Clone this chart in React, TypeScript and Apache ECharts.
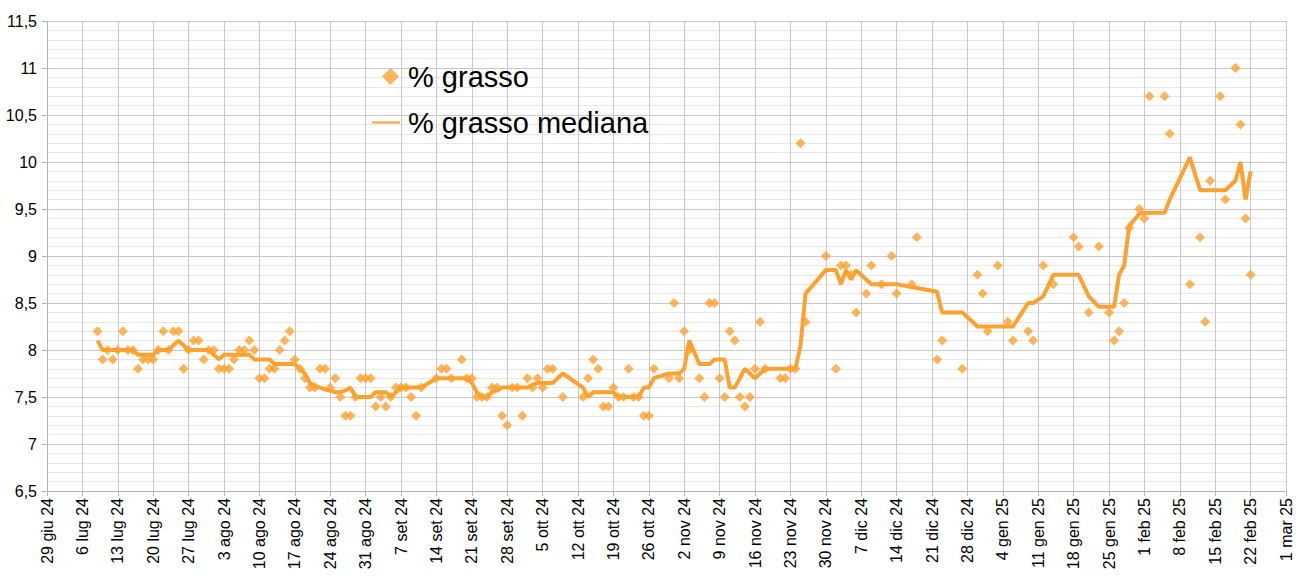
import React, { useEffect, useRef } from "react";
import * as echarts from "echarts";

const START_DATE = "2024-06-29";
const DAY_MS = 86400000;

const xTickLabels = [
  "29 giu 24", "6 lug 24", "13 lug 24", "20 lug 24", "27 lug 24", "3 ago 24", "10 ago 24",
  "17 ago 24", "24 ago 24", "31 ago 24", "7 set 24", "14 set 24", "21 set 24", "28 set 24",
  "5 ott 24", "12 ott 24", "19 ott 24", "26 ott 24", "2 nov 24", "9 nov 24", "16 nov 24",
  "23 nov 24", "30 nov 24", "7 dic 24", "14 dic 24", "21 dic 24", "28 dic 24", "4 gen 25",
  "11 gen 25", "18 gen 25", "25 gen 25", "1 feb 25", "8 feb 25", "15 feb 25", "22 feb 25",
  "1 mar 25",
];

const dates = [
  "2024-07-09", "2024-07-10", "2024-07-11", "2024-07-12", "2024-07-13", "2024-07-14", "2024-07-15",
  "2024-07-16", "2024-07-17", "2024-07-18", "2024-07-19", "2024-07-20", "2024-07-21", "2024-07-22",
  "2024-07-23", "2024-07-24", "2024-07-25", "2024-07-26", "2024-07-27", "2024-07-28", "2024-07-29",
  "2024-07-30", "2024-07-31", "2024-08-01", "2024-08-02", "2024-08-03", "2024-08-04", "2024-08-05",
  "2024-08-06", "2024-08-07", "2024-08-08", "2024-08-09", "2024-08-10", "2024-08-11", "2024-08-12",
  "2024-08-13", "2024-08-14", "2024-08-15", "2024-08-16", "2024-08-17", "2024-08-18", "2024-08-19",
  "2024-08-20", "2024-08-21", "2024-08-22", "2024-08-23", "2024-08-24", "2024-08-25", "2024-08-26",
  "2024-08-27", "2024-08-28", "2024-08-29", "2024-08-30", "2024-08-31", "2024-09-01", "2024-09-02",
  "2024-09-03", "2024-09-04", "2024-09-05", "2024-09-06", "2024-09-07", "2024-09-08", "2024-09-09",
  "2024-09-10", "2024-09-11", "2024-09-14", "2024-09-15", "2024-09-16", "2024-09-17", "2024-09-19",
  "2024-09-20", "2024-09-21", "2024-09-22", "2024-09-23", "2024-09-24", "2024-09-25", "2024-09-26",
  "2024-09-27", "2024-09-28", "2024-09-29", "2024-09-30", "2024-10-01", "2024-10-02", "2024-10-03",
  "2024-10-04", "2024-10-05", "2024-10-06", "2024-10-07", "2024-10-09", "2024-10-13", "2024-10-14",
  "2024-10-15", "2024-10-16", "2024-10-17", "2024-10-18", "2024-10-19", "2024-10-20", "2024-10-21",
  "2024-10-22", "2024-10-23", "2024-10-24", "2024-10-25", "2024-10-26", "2024-10-27", "2024-10-30",
  "2024-10-31", "2024-11-01", "2024-11-02", "2024-11-03", "2024-11-05", "2024-11-06", "2024-11-07",
  "2024-11-08", "2024-11-09", "2024-11-10", "2024-11-11", "2024-11-12", "2024-11-13", "2024-11-14",
  "2024-11-15", "2024-11-16", "2024-11-17", "2024-11-18", "2024-11-21", "2024-11-22", "2024-11-23",
  "2024-11-24", "2024-11-25", "2024-11-26", "2024-11-30", "2024-12-02", "2024-12-03", "2024-12-04",
  "2024-12-05", "2024-12-06", "2024-12-08", "2024-12-09", "2024-12-11", "2024-12-13", "2024-12-14",
  "2024-12-17", "2024-12-18", "2024-12-22", "2024-12-23", "2024-12-27", "2024-12-30", "2024-12-31",
  "2025-01-01", "2025-01-03", "2025-01-05", "2025-01-06", "2025-01-09", "2025-01-10", "2025-01-12",
  "2025-01-14", "2025-01-18", "2025-01-19", "2025-01-21", "2025-01-23", "2025-01-25", "2025-01-26",
  "2025-01-27", "2025-01-28", "2025-01-29", "2025-01-31", "2025-02-01", "2025-02-02", "2025-02-05",
  "2025-02-06", "2025-02-10", "2025-02-12", "2025-02-13", "2025-02-14", "2025-02-16", "2025-02-17",
  "2025-02-19", "2025-02-20", "2025-02-21", "2025-02-22",
];

const grasso = [
  8.2, 7.9, 8.0, 7.9, 8.0, 8.2, 8.0,
  8.0, 7.8, 7.9, 7.9, 7.9, 8.0, 8.2,
  8.0, 8.2, 8.2, 7.8, 8.0, 8.1, 8.1,
  7.9, 8.0, 8.0, 7.8, 7.8, 7.8, 7.9,
  8.0, 8.0, 8.1, 8.0, 7.7, 7.7, 7.8,
  7.8, 8.0, 8.1, 8.2, 7.9, 7.8, 7.7,
  7.6, 7.6, 7.8, 7.8, 7.6, 7.7, 7.5,
  7.3, 7.3, 7.5, 7.7, 7.7, 7.7, 7.4,
  7.5, 7.4, 7.5, 7.6, 7.6, 7.6, 7.5,
  7.3, 7.6, 7.7, 7.8, 7.8, 7.7, 7.9,
  7.7, 7.7, 7.5, 7.5, 7.5, 7.6, 7.6,
  7.3, 7.2, 7.6, 7.6, 7.3, 7.7, 7.6,
  7.7, 7.6, 7.8, 7.8, 7.5, 7.5, 7.7,
  7.9, 7.8, 7.4, 7.4, 7.6, 7.5, 7.5,
  7.8, 7.5, 7.5, 7.3, 7.3, 7.8, 7.7,
  8.5, 7.7, 8.2, 8.0, 7.7, 7.5, 8.5,
  8.5, 7.7, 7.5, 8.2, 8.1, 7.5, 7.4,
  7.5, 7.8, 8.3, 7.8, 7.7, 7.7, 7.8,
  7.8, 10.2, 8.3, 9.0, 7.8, 8.9, 8.9,
  8.8, 8.4, 8.6, 8.9, 8.7, 9.0, 8.6,
  8.7, 9.2, 7.9, 8.1, 7.8, 8.8, 8.6,
  8.2, 8.9, 8.3, 8.1, 8.2, 8.1, 8.9,
  8.7, 9.2, 9.1, 8.4, 9.1, 8.4, 8.1,
  8.2, 8.5, 9.3, 9.5, 9.4, 10.7, 10.7,
  10.3, 8.7, 9.2, 8.3, 9.8, 10.7, 9.6,
  11.0, 10.4, 9.4, 8.8,
];

const grassoMediana = [
  8.1, 8.0, 8.0, 8.0, 8.0, 8.0, 8.0,
  8.0, 7.95, 7.95, 7.95, 7.95, 8.0, 8.0,
  8.0, 8.05, 8.1, 8.05, 8.0, 8.0, 8.0,
  8.0, 8.0, 7.95, 7.9, 7.95, 7.95, 7.95,
  7.95, 7.95, 7.95, 7.9, 7.9, 7.9, 7.9,
  7.85, 7.85, 7.85, 7.85, 7.85, 7.8, 7.75,
  7.65, 7.62, 7.6, 7.58, 7.57, 7.55, 7.55,
  7.57, 7.6, 7.5, 7.5, 7.5, 7.5, 7.55,
  7.55, 7.55, 7.5, 7.55, 7.6, 7.6, 7.6,
  7.6, 7.6, 7.7, 7.7, 7.7, 7.7, 7.7,
  7.7, 7.65, 7.55, 7.5, 7.5, 7.55, 7.57,
  7.6, 7.6, 7.6, 7.6, 7.6, 7.6, 7.63,
  7.65, 7.65, 7.65, 7.65, 7.75, 7.6, 7.5,
  7.55, 7.55, 7.55, 7.55, 7.55, 7.5, 7.5,
  7.5, 7.5, 7.5, 7.6, 7.6, 7.7, 7.75,
  7.75, 7.75, 7.8, 8.1, 7.85, 7.85, 7.85,
  7.9, 7.9, 7.9, 7.6, 7.6, 7.7, 7.8,
  7.75, 7.7, 7.75, 7.8, 7.8, 7.8, 7.8,
  7.8, 8.05, 8.6, 8.85, 8.85, 8.7, 8.85,
  8.75, 8.85, 8.75, 8.7, 8.7, 8.7, 8.7,
  8.67, 8.66, 8.62, 8.4, 8.4, 8.25, 8.25,
  8.25, 8.25, 8.25, 8.25, 8.5, 8.5, 8.57,
  8.8, 8.8, 8.8, 8.57, 8.46, 8.46, 8.46,
  8.8, 8.9, 9.32, 9.45, 9.46, 9.46, 9.46,
  9.6, 10.05, 9.7, 9.7, 9.7, 9.7, 9.7,
  9.8, 10.0, 9.6, 9.9,
];

const COLOR = "#ffa12f";
const FONT = "'Liberation Sans', Arial, sans-serif";

const dayIndex = (s: string) => (Date.parse(s) - Date.parse(START_DATE)) / DAY_MS;

export default function App() {
  const ref = useRef<HTMLDivElement>(null);

  useEffect(() => {
    if (!ref.current) return;
    const chart = echarts.init(ref.current, null, { renderer: "svg" });
    const xs = dates.map(dayIndex);
    const maxDay = (xTickLabels.length - 1) * 7;
    const legendText = { fontSize: 29, color: "#000", fontFamily: FONT };

    chart.setOption({
      animation: false,
      backgroundColor: "#ffffff",
      textStyle: { fontFamily: FONT },
      grid: { left: 47, right: 20, top: 21, bottom: 88, containLabel: false },
      legend: [
        {
          left: 382,
          top: 62,
          padding: 0,
          itemWidth: 17,
          itemHeight: 17,
          textStyle: { ...legendText, padding: [0, 0, 0, 4] },
          data: [{ name: "% grasso", icon: "diamond" }],
        },
        {
          left: 372,
          top: 108,
          padding: 0,
          itemWidth: 28,
          itemHeight: 2,
          textStyle: { ...legendText, padding: [0, 0, 0, 3] },
          data: [{ name: "% grasso mediana", icon: "rect" }],
        },
      ],
      xAxis: {
        type: "value",
        min: 0,
        max: maxDay,
        interval: 7,
        axisLine: { show: true, lineStyle: { color: "#b3b3b3" } },
        axisTick: { show: true, length: 5, lineStyle: { color: "#b3b3b3" } },
        axisLabel: {
          rotate: 90,
          margin: 7,
          fontSize: 16,
          color: "#000",
          fontFamily: FONT,
          showMinLabel: true,
          showMaxLabel: true,
          formatter: (v: number) => xTickLabels[Math.round(v / 7)] ?? "",
        },
        splitLine: { show: true, lineStyle: { color: "#c8c8c8", width: 1 } },
      },
      yAxis: {
        type: "value",
        min: 6.5,
        max: 11.5,
        interval: 0.5,
        axisLine: { show: true, lineStyle: { color: "#b3b3b3" } },
        axisTick: { show: true, length: 5, lineStyle: { color: "#b3b3b3" } },
        axisLabel: {
          margin: 10,
          fontSize: 16,
          color: "#000",
          fontFamily: FONT,
          formatter: (v: number) => String(v).replace(".", ","),
        },
        splitLine: { show: true, lineStyle: { color: "#c8c8c8", width: 1 } },
        minorTick: { show: false, splitNumber: 5 },
        minorSplitLine: { show: true, lineStyle: { color: "#e8e8e8", width: 1 } },
      },
      series: [
        {
          name: "% grasso",
          type: "scatter",
          symbol: "diamond",
          symbolSize: 10,
          itemStyle: { color: COLOR },
          data: xs.map((x, i) => [x, grasso[i]]),
          z: 3,
        },
        {
          name: "% grasso mediana",
          type: "line",
          symbol: "none",
          lineStyle: { color: COLOR, width: 4 },
          itemStyle: { color: COLOR },
          data: xs.map((x, i) => [x, grassoMediana[i]]),
          z: 2,
        },
      ],
    });

    return () => chart.dispose();
  }, []);

  return (
    <div
      ref={ref}
      style={{ position: "fixed", left: 0, top: 0, width: 1306, height: 579, background: "#fff" }}
    />
  );
}
